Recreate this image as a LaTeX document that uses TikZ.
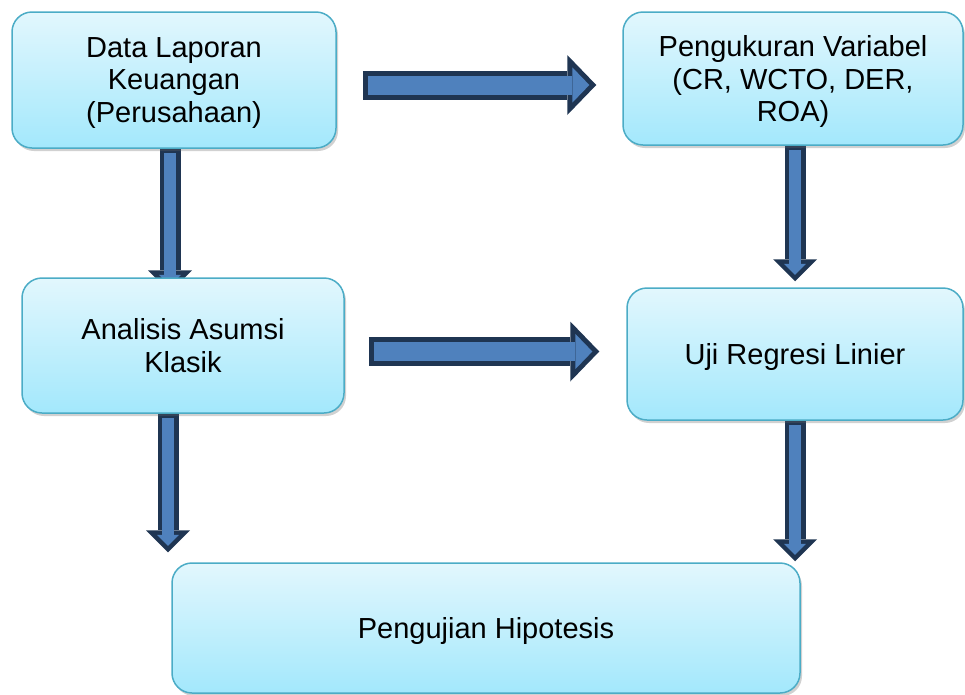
\documentclass[tikz,border=0pt]{standalone}
\usepackage{fontspec}
\setmainfont{Liberation Sans}
\usetikzlibrary{arrows.meta,calc,shadows,backgrounds}
\definecolor{boxtop}{HTML}{E2F7FD}
\definecolor{boxbottom}{HTML}{A3E8FC}
\definecolor{boxline}{HTML}{4BACC6}
\definecolor{arrowfill}{HTML}{4F81BD}
\definecolor{arrowline}{HTML}{1F3552}
\tikzset{%
  % Specifications for style of nodes:
        base/.style = {rectangle, rounded corners=20pt, draw=boxline,
                       line width=1.5pt, align=center, text depth=0pt,
                       font=\fontsize{29}{32.5}\selectfont},
         box/.style = {base, top color=boxtop, bottom color=boxbottom,
                       drop shadow={shadow xshift=2pt, shadow yshift=-3pt,
                                    opacity=0.3, fill=black!60}},
  % Specifications for style of the block arrows:
      hblock/.style = {draw=arrowline, line width=29pt,
                       -{Triangle[length=29pt, width=60pt, line width=0pt]},
                       postaction={draw=arrowfill, line width=19pt,
                         shorten <=5pt, shorten >=6.9pt,
                         -{Triangle[length=17.1pt, width=35.4pt, line width=0pt]}}},
      vblock/.style = {draw=arrowline, line width=21pt,
                       -{Triangle[length=22pt, width=44pt, line width=0pt]},
                       postaction={draw=arrowfill, line width=12pt,
                         shorten <=4.5pt, shorten >=6.4pt,
                         -{Triangle[length=11.1pt, width=22.2pt, line width=0pt]}}}
}

\begin{document}
\begin{tikzpicture}[x=1pt, y=-1pt]
  \useasboundingbox (0,0) rectangle (965,694);
  % Specification of nodes (position, etc.)
  \node (data)      [box, minimum width=324pt, minimum height=136pt] at (174,80)    {Data Laporan\\Keuangan\\(Perusahaan)};
  \node (variabel)  [box, minimum width=340pt, minimum height=133pt] at (793,78.5)  {Pengukuran Variabel\\(CR, WCTO, DER,\\ROA)};
  \node (asumsi)    [box, minimum width=322pt, minimum height=135pt] at (183,345.5) {Analisis Asumsi\\Klasik};
  \node (regresi)   [box, minimum width=336pt, minimum height=132pt] at (795,354)   {Uji Regresi Linier};
  \node (hipotesis) [box, minimum width=628pt, minimum height=130pt] at (486,628)   {Pengujian Hipotesis};

  % Block arrows, under the boxes
  \begin{scope}[on background layer]
    \draw[hblock] ($(data.east)+(26,5)$) -- ($(data.east -| variabel.west)+(-26,5)$);
    \draw[hblock] ($(asumsi.east)+(24,6)$) -- ($(asumsi.east -| regresi.west)+(-27,6)$);

    \draw[vblock] ($(data.south)+(-4,0)$) -- ($(data.south |- asumsi.north)+(-4,15)$);
    \draw[vblock] ($(variabel.south)+(2,0)$) -- ($(variabel.south |- regresi.north)+(2,-6)$);
    \draw[vblock] ($(asumsi.south)+(-15,0)$) -- ($(asumsi.south |- hipotesis.north)+(-15,-10)$);
    \draw[vblock] (regresi.south) -- ($(regresi.south |- hipotesis.north)+(0,-1)$);
  \end{scope}
\end{tikzpicture}
\end{document}
